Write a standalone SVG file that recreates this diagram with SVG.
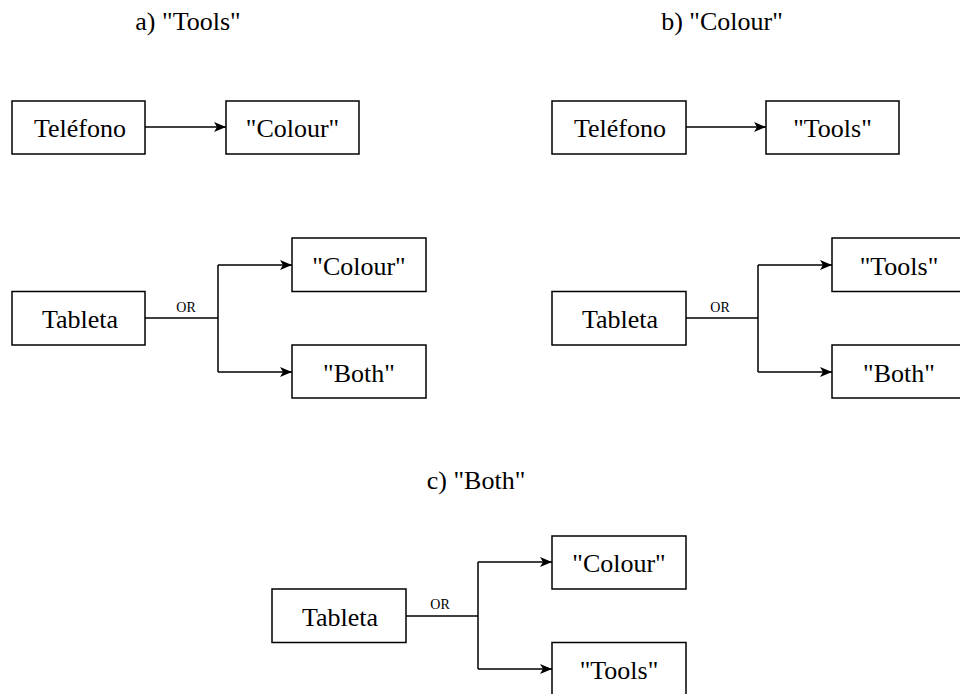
<svg xmlns="http://www.w3.org/2000/svg" width="960" height="694" viewBox="0 0 960 694">
<style>
  .box{fill:#fff;stroke:#000;stroke-width:1.5}
  .t{font-family:"Liberation Serif","Times New Roman",serif;font-size:26px;fill:#000;text-anchor:middle}
  .title{font-family:"Liberation Serif","Times New Roman",serif;font-size:26px;fill:#000;text-anchor:middle}
  .or{font-family:"Liberation Serif","Times New Roman",serif;font-size:14px;fill:#000;text-anchor:middle}
  .c{fill:none;stroke:#000;stroke-width:1.5}
</style>
<defs>
  <marker id="ah" markerWidth="12" markerHeight="10" refX="12" refY="5" orient="auto" markerUnits="userSpaceOnUse">
    <path d="M0,0 L12,5 L0,10 L3,5 Z" fill="#000"/>
  </marker>
</defs>
<rect width="960" height="694" fill="#fff"/>
<g id="titles">
  <text class="title" x="188" y="30">a) "Tools"</text>
  <text class="title" x="722" y="30">b) "Colour"</text>
  <text class="title" x="476" y="489">c) "Both"</text>
</g>
<g id="connectors">
  <path class="c" d="M145,127 H226" marker-end="url(#ah)"/>
  <path class="c" d="M145,318 H218 M218,265 V372 M218,265 H292" marker-end="url(#ah)"/>
  <path class="c" d="M218,372 H292" marker-end="url(#ah)"/>
  <text class="or" x="186" y="312">OR</text>
  <path class="c" d="M686,127 H766" marker-end="url(#ah)"/>
  <path class="c" d="M686,318 H758 M758,265 V372 M758,265 H832" marker-end="url(#ah)"/>
  <path class="c" d="M758,372 H832" marker-end="url(#ah)"/>
  <text class="or" x="720" y="312">OR</text>
  <path class="c" d="M406,616 H478 M478,562 V669 M478,562 H552" marker-end="url(#ah)"/>
  <path class="c" d="M478,669 H552" marker-end="url(#ah)"/>
  <text class="or" x="440" y="609">OR</text>
</g>
<g id="a-telefono"><rect class="box" x="12" y="101" width="133" height="53"/><text class="t" x="80" y="137">Teléfono</text></g>
<g id="a-colour"><rect class="box" x="226" y="101" width="133" height="53"/><text class="t" x="292.5" y="137">"Colour"</text></g>
<g id="a-tableta"><rect class="box" x="12" y="291.5" width="133" height="53.5"/><text class="t" x="80" y="328">Tableta</text></g>
<g id="a-colour2"><rect class="box" x="292" y="238" width="134" height="53.5"/><text class="t" x="359" y="275">"Colour"</text></g>
<g id="a-both"><rect class="box" x="292" y="345" width="134" height="53"/><text class="t" x="359" y="382">"Both"</text></g>
<g id="b-telefono"><rect class="box" x="552" y="101" width="134" height="53"/><text class="t" x="620" y="137">Teléfono</text></g>
<g id="b-tools"><rect class="box" x="766" y="101" width="133" height="53"/><text class="t" x="832.5" y="137">"Tools"</text></g>
<g id="b-tableta"><rect class="box" x="552" y="291.5" width="134" height="53.5"/><text class="t" x="620" y="328">Tableta</text></g>
<g id="b-tools2"><rect class="box" x="832" y="238" width="134" height="53.5"/><text class="t" x="899" y="275">"Tools"</text></g>
<g id="b-both"><rect class="box" x="832" y="345" width="134" height="53"/><text class="t" x="899" y="382">"Both"</text></g>
<g id="c-tableta"><rect class="box" x="272" y="589" width="134" height="53.5"/><text class="t" x="340" y="626">Tableta</text></g>
<g id="c-colour"><rect class="box" x="552" y="536" width="134" height="53"/><text class="t" x="619" y="572">"Colour"</text></g>
<g id="c-tools"><rect class="box" x="552" y="642.5" width="134" height="53.5"/><text class="t" x="619" y="679">"Tools"</text></g>
</svg>
